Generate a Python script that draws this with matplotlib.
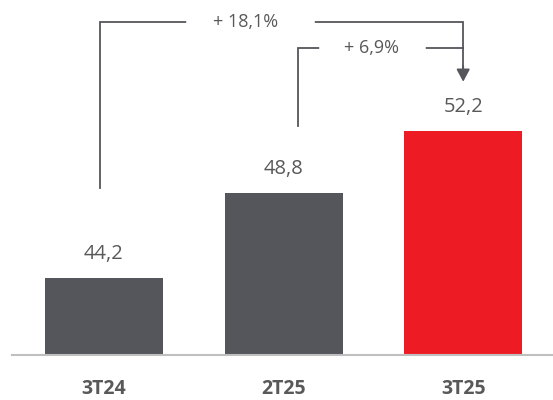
import matplotlib
matplotlib.use("Agg")
import matplotlib.pyplot as plt

categories = ["3T24", "2T25", "3T25"]
values = [44.2, 48.8, 52.2]
value_labels = ["44,2", "48,8", "52,2"]
growth_labels = ["+ 18,1%", "+ 6,9%"]

GREY = "#55565B"
RED = "#ED1C24"
TXT = "#595959"
plt.rcParams["font.family"] = ["Open Sans", "DejaVu Sans"]

fig = plt.figure(figsize=(5.53, 4.0), dpi=100)
ax = fig.add_axes([12 / 553, 45 / 400, 541 / 553, 355 / 400])
colors = [GREY, GREY, RED]
x = list(range(len(categories)))
ax.bar(x, values, width=0.657, color=colors, zorder=2)
ax.set_xlim(-0.512, 2.5)
ax.set_ylim(40, 40 + 355 / 18.4)

for xi, v, lab in zip(x, values, value_labels):
    ax.text(xi, v + 0.75, lab, ha="center", va="bottom", fontsize=14.5, color=TXT)

for s in ["top", "right", "left"]:
    ax.spines[s].set_visible(False)
ax.spines["bottom"].set_color("#BFBFBF")
ax.spines["bottom"].set_linewidth(1.5)
ax.set_yticks([])
ax.set_xticks(x)
ax.set_xticklabels(categories, fontsize=14, fontweight="bold", color=TXT)
ax.tick_params(axis="x", length=0, pad=17)

lc = GREY
lw = 1.3
# first bracket (3T24 -> 3T25)
y1_top = 58.1
ax.plot([-0.022, -0.022, 2, 2], [49.1, y1_top, y1_top, 55.6], color=lc, lw=lw, zorder=3,
        solid_joinstyle="miter")
# second bracket (2T25 -> 3T25)
y2_top = 56.7
ax.plot([1.08, 1.08, 2], [52.45, y2_top, y2_top], color=lc, lw=lw, zorder=3,
        solid_joinstyle="miter")
ax.annotate("", xy=(2, 54.85), xytext=(2, 55.7),
            arrowprops=dict(arrowstyle="-|>,head_length=0.75,head_width=0.4",
                            color=lc, lw=lw, shrinkA=0, shrinkB=0), zorder=4)

ax.text(0.79, y1_top, growth_labels[0], ha="center", va="center", fontsize=13, color=TXT,
        zorder=5)
ax.text(1.49, y2_top, growth_labels[1], ha="center", va="center", fontsize=13, color=TXT,
        zorder=5)
# white gaps around labels
ax.plot([(189 - 104) / 179.7, (312 - 104) / 179.7], [y1_top, y1_top], color="white", lw=4, zorder=4)
ax.plot([(322 - 104) / 179.7, (423 - 104) / 179.7], [y2_top, y2_top], color="white", lw=4, zorder=4)

fig.savefig("out.png", dpi=100)
